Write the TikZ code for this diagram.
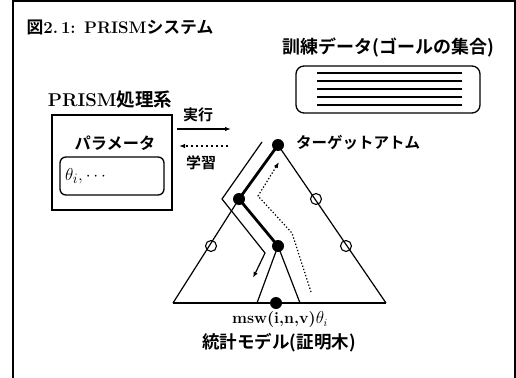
\documentclass[tikz,border=0pt]{standalone}
\usepackage{fontspec}
\newfontfamily\jp{Noto Sans CJK JP}[BoldFont={* Bold}]
\usetikzlibrary{arrows.meta}
\begin{document}
\begin{tikzpicture}[x=1pt,y=-1pt,
  frameline/.style={line width=1.3pt},
  box/.style={draw,line width=1.3pt,inner sep=0pt},
  tline/.style={line width=1.2pt},
  bline/.style={line width=2.8pt},
  dot/.style={circle,fill=black,inner sep=0pt,minimum size=12pt},
  odot/.style={circle,draw,line width=1.1pt,inner sep=0pt,minimum size=11pt},
  lbl/.style={inner sep=0pt,font=\fontsize{15}{18}\selectfont\bfseries},
  tip/.style={-{Latex[length=6pt,width=4.5pt]}}
]
\useasboundingbox (0,0) rectangle (516,377);
% frame
\coordinate (f1) at (13,380);
\coordinate (f2) at (13,1);
\coordinate (f3) at (515,1);
\coordinate (f4) at (515,380);
\draw[frameline] (f1) -- (f2) -- (f3) -- (f4);

% title
\node[lbl,font=\fontsize{16.8}{19}\selectfont\bfseries] (title) at (120,27)
  {{\jp 図}2.\,1: PRISM{\jp システム}};

% training data
\node[lbl,font=\fontsize{18}{21}\selectfont\bfseries] (datalbl) at (388,47)
  {\jp 訓練データ(ゴールの集合)};
\node[box,rounded corners=8pt,minimum width=184pt,minimum height=47pt] (data) at (388,89.5) {};
\foreach \yy in {73,81,89,97,105}{
  \draw[line width=1.1pt] (317,\yy) -- (462,\yy);
}

% PRISM system
\node[lbl,font=\fontsize{18.5}{21}\selectfont\bfseries] (prismlbl) at (110,100)
  {PRISM{\jp 処理系}};
\node[box,minimum width=120pt,minimum height=95pt] (prism) at (112,162.5) {};
\node[lbl,font=\fontsize{16.2}{19}\selectfont\bfseries] (paramlbl) at (115,143) {\jp パラメータ};
\node[box,rounded corners=6pt,minimum width=104pt,minimum height=38pt,
  text width=94pt,align=left,inner xsep=5pt,font=\fontsize{19}{22}\selectfont] (param) at (112,176)
  {$\theta_i,\cdots$};

% run / learn arrows
\node[lbl] (runlbl) at (198,115) {\jp 実行};
\coordinate (r1) at (177,129);
\coordinate (r2) at (231,129);
\draw[tline,tip] (r1) -- (r2);
\coordinate (l1) at (228,146);
\coordinate (l2) at (179,146);
\draw[tline,tip,dash pattern=on 2.5pt off 2.5pt] (l1) -- (l2);
\node[lbl] (learnlbl) at (201,163) {\jp 学習};

% tree
\coordinate (T) at (278,145);
\coordinate (L) at (239,199);
\coordinate (M) at (278,246);
\coordinate (B) at (276,303);
\coordinate (BL) at (173,303);
\coordinate (BR) at (386,303);
\coordinate (ML) at (257,303);
\coordinate (MR) at (300,303);
\draw[tline] (T) -- (BR);
\draw[tline] (L) -- (BL);
\draw[tline] (BL) -- (BR);
\draw[tline] (ML) -- (M) -- (MR);
\draw[bline,line join=round] (T) -- (L) -- (M);
\node[dot] (nT) at (T) {};
\node[dot] (nL) at (L) {};
\node[dot] (nM) at (M) {};
\node[dot] (nB) at (B) {};
\node[odot] (o1) at (211,246) {};
\node[odot] (o2) at (316,199) {};
\node[odot] (o3) at (346,246) {};

% execution path
\coordinate (e1) at (262,142);
\coordinate (e2) at (222,199);
\coordinate (e3) at (265,253);
\coordinate (e4) at (253,278);
\draw[tline,tip] (e1) -- (e2) -- (e3) -- (e4);

% learning path
\coordinate (d1) at (311,292);
\coordinate (d2) at (292,233);
\coordinate (d3) at (258,196);
\coordinate (d4) at (279,162);
\draw[tline,tip,dash pattern=on 1.3pt off 2pt] (d1) -- (d2) -- (d3) -- (d4);

\node[lbl,font=\fontsize{15.5}{18}\selectfont\bfseries] (target) at (358,143) {\jp ターゲットアトム};
\node[inner sep=0pt,font=\fontsize{16}{19}\selectfont] (msw) at (280,320)
  {\textbf{msw(i,n,v)}$\theta_i$};
\node[lbl,font=\fontsize{17.5}{20}\selectfont\bfseries] (model) at (279,343) {\jp 統計モデル(証明木)};
\end{tikzpicture}
\end{document}
